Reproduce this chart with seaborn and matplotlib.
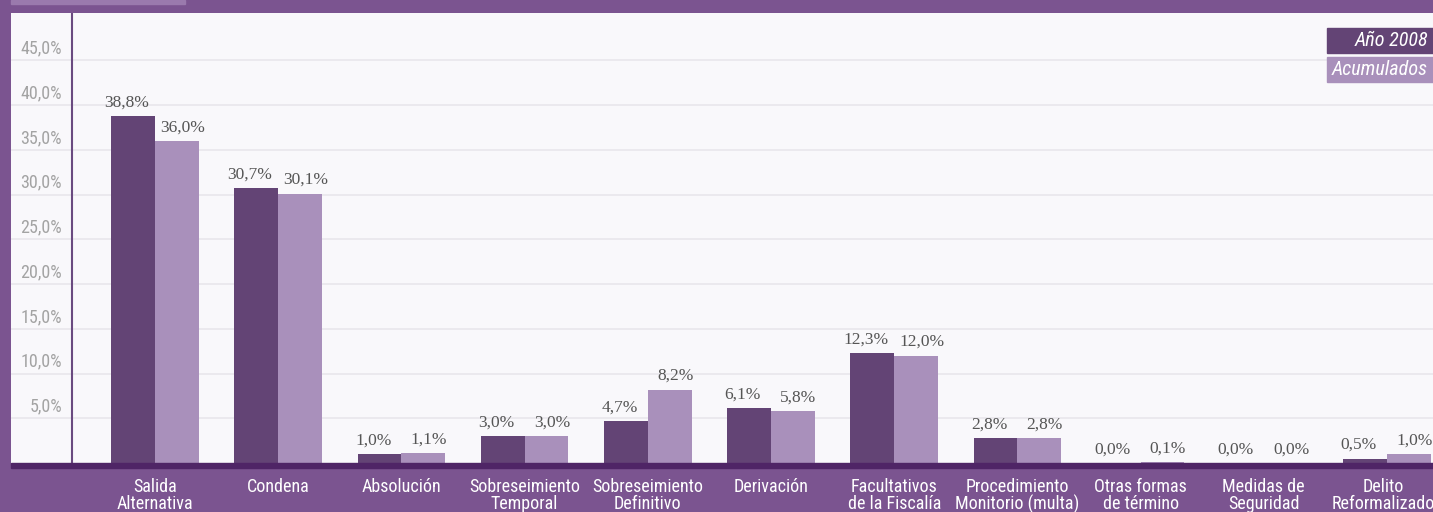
import matplotlib
matplotlib.use("Agg")
import matplotlib.pyplot as plt
from matplotlib import font_manager
from matplotlib.patches import Rectangle
import pandas as pd
import seaborn as sns

categorias = ["Salida\nAlternativa", "Condena", "Absolución", "Sobreseimiento\nTemporal",
              "Sobreseimiento\nDefinitivo", "Derivación", "Facultativos\nde la Fiscalía",
              "Procedimiento\nMonitorio (multa)", "Otras formas\nde término",
              "Medidas de\nSeguridad", "Delito\nReformalizado"]
anio_2008 = [38.8, 30.7, 1.0, 3.0, 4.7, 6.1, 12.3, 2.8, 0.0, 0.0, 0.5]
acumulados = [36.0, 30.1, 1.1, 3.0, 8.2, 5.8, 12.0, 2.8, 0.1, 0.0, 1.0]
series = ["Año 2008", "Acumulados"]
yticks = [5, 10, 15, 20, 25, 30, 35, 40, 45]

MARCO = "#7b5490"
OSCURO = "#634475"
CLARO = "#a990bb"
FONDO = "#f9f8fb"
SERIF = ["Liberation Serif", "DejaVu Serif"]

# narrow sans if installed
installed = {f.name for f in font_manager.fontManager.ttflist}
SANS = [f for f in ["Roboto Condensed", "Liberation Sans Narrow", "Roboto"]
        if f in installed][:1] + ["DejaVu Sans"]

df = pd.DataFrame({
    "categoria": categorias * 2,
    "serie": [series[0]] * len(categorias) + [series[1]] * len(categorias),
    "valor": anio_2008 + acumulados,
})

W, H = 1433, 512
fig = plt.figure(figsize=(W / 100, H / 100), dpi=100, facecolor=MARCO)
ax = fig.add_axes([11 / W, (H - 463) / H, (W - 11) / W, 450 / H])
ax.set_facecolor(FONDO)

sns.barplot(data=df, x="categoria", y="valor", hue="serie", order=categorias,
            hue_order=series, palette=[OSCURO, CLARO], width=0.71, saturation=1,
            legend=False, ax=ax, zorder=3)

# group spacing in pixels, first group centre at x=155
step, x0 = 123.2, 155
ax.set_xlim(-(x0 - 11) / step, (W - x0) / step)
ax.set_ylim(0, 450 / 8.95)
ax.set_yticks(yticks)
ax.yaxis.grid(True, color="#e9e7ec", linewidth=1.2, zorder=0)
ax.set_axisbelow(True)
ax.tick_params(left=False, bottom=False, labelleft=False, labelbottom=False)
for s in ax.spines.values():
    s.set_visible(False)
ax.set_xlabel("")
ax.set_ylabel("")
ax.axvline(-(x0 - 72) / step, color="#6a4a80", linewidth=1.5, zorder=4)

for t in yticks:
    ax.annotate(f"{t},0%", xy=(51 / (W - 11), t), xycoords=("axes fraction", "data"),
                xytext=(0, 2), textcoords="offset points", ha="right", va="bottom",
                fontsize=13, color="#a3a3a3", family=SANS)

# value labels, pushed slightly apart from the group centre
for cont, dx in zip(ax.containers, [-4.5, 4]):
    for b in cont:
        ax.annotate(f"{b.get_height():.1f}%".replace(".", ","),
                    xy=(b.get_x() + b.get_width() / 2, b.get_height()),
                    xytext=(dx, 4), textcoords="offset points", ha="center", va="bottom",
                    fontsize=12.5, color="#555555", family=SERIF)

# category labels in the bottom band
for i, c in enumerate(categorias):
    dx = -3 if i == len(categorias) - 1 else 0
    ax.annotate(c, xy=(i, 0), xycoords="data", xytext=(dx, -11), textcoords="offset points",
                ha="center", va="top", fontsize=13, color="white",
                family=SANS, linespacing=0.88, annotation_clip=False)

# baseline band and top-left tab
fig.patches.append(Rectangle((11 / W, (H - 468) / H), (W - 11) / W, 5 / H,
                             transform=fig.transFigure, color="#4f2566", zorder=5))
fig.patches.append(Rectangle((11 / W, (H - 4) / H), 174 / W, 4 / H,
                             transform=fig.transFigure, color="#9a7aad", zorder=5))

# legend boxes
for k, (name, col) in enumerate(zip(series, [OSCURO, CLARO])):
    y0 = 28 + k * 29
    fig.patches.append(Rectangle((1327 / W, (H - y0 - 25) / H), 106 / W, 25 / H,
                                 transform=fig.transFigure, color=col, zorder=5))
    fig.text(1428 / W, (H - y0 - 12.5) / H, name, ha="right", va="center",
             fontsize=14.5, style="italic", color="white", family=SANS, zorder=6)

fig.savefig("out.png", dpi=100, facecolor=MARCO)
